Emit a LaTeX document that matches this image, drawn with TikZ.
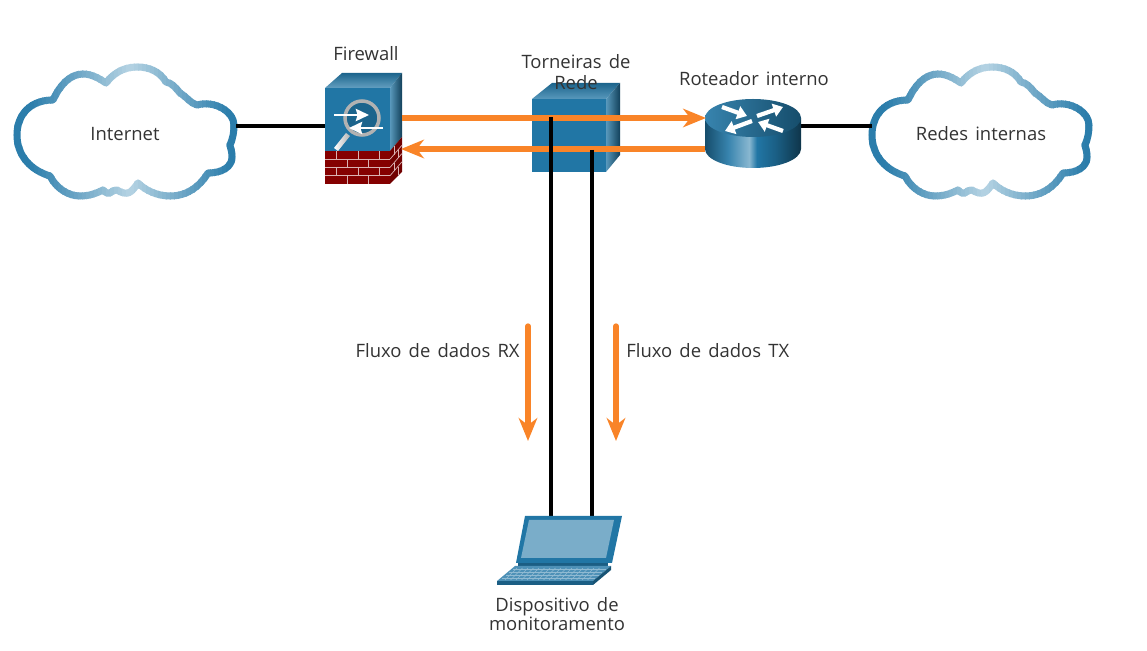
\documentclass[tikz,border=0pt]{standalone}
\usepackage{fontspec}
\setmainfont{Open Sans}[WordSpace=1.5]
\usetikzlibrary{arrows.meta}
\definecolor{cbdark}{HTML}{2B7DAB}
\definecolor{cblight}{HTML}{B5D3E3}
\definecolor{devblue}{HTML}{2176A5}
\definecolor{flow}{HTML}{F98428}
\definecolor{brick}{HTML}{850000}
\definecolor{txtgray}{HTML}{333333}
\pgfdeclarehorizontalshading{routerside}{100bp}{
 color(0bp)=(devblue!65!black); color(25bp)=(devblue!65!black); color(37bp)=(devblue!90!white);
 color(48bp)=(cblight!70!devblue); color(52bp)=(devblue); color(62bp)=(devblue!80!black); color(75bp)=(devblue!45!black); color(100bp)=(devblue!45!black)}
\tikzset{
 lbl/.style={text=txtgray,font=\fontsize{10.5}{10.6}\selectfont,inner sep=0pt,align=center},
 flowline/.style={draw=flow,line width=3pt},
 flowtip/.style={-{Stealth[length=13pt,width=10.5pt,inset=4pt]}},
 blackline/.style={draw=black,line width=2pt},
 mortar/.style={draw=white!70!brick,line width=0.4pt},
 fwarrow/.style={draw=white,line width=1.2pt,-{Stealth[length=7.5pt,width=7pt,inset=1pt]}},
 rtarrow/.style={draw=white,line width=2.4pt,-{Stealth[length=5.5pt,width=7.5pt,inset=0pt]}}
}
\newcommand{\cloudshape}{(53,100) .. controls (30,100) and (17,115) .. (17,135)
 .. controls (17,155) and (30,170) .. (50,176) .. controls (56,188) and (68,196) .. (80,196)
 .. controls (90,196) and (97,193) .. (103,190) .. controls (106,193) and (108,194) .. (110,193)
 .. controls (112,191) and (114,190) .. (117,190) .. controls (120,192) and (125,194) .. (128,193)
 .. controls (132,192) and (135,187) .. (138,183) .. controls (146,191) and (158,196) .. (170,196)
 .. controls (188,196) and (200,186) .. (208,173) .. controls (222,173) and (232,167) .. (232,157)
 .. controls (232,152) and (231,150) .. (230,145) .. controls (233,138) and (234,132) .. (234,125)
 .. controls (234,112) and (215,100) .. (197,105) .. controls (190,103) and (188,98) .. (180,93)
 .. controls (176,88) and (172,83) .. (166,82) .. controls (160,72) and (150,67) .. (137,67)
 .. controls (122,67) and (112,75) .. (106,83) .. controls (100,79) and (92,74) .. (83,74)
 .. controls (70,74) and (60,85) .. (53,100) -- cycle}
\newcommand{\cloudring}{%
 \foreach \sx in {10,14,...,238}{
  \pgfmathsetmacro{\mixp}{min(100,abs(\sx+2-130)/1.0)}
  \begin{scope}
   \clip (\sx,50) rectangle (\sx+5,210);
   \draw[cbdark!\mixp!cblight,line width=4pt,line join=round] \cloudshape;
  \end{scope}
 }}
\begin{document}
\begin{tikzpicture}[x=0.02cm,y=-0.02cm]
 \useasboundingbox (0,0) rectangle (1147,651);
 % ports
 \coordinate (inetport) at (236,126);
 \coordinate (fwleft) at (325,126);
 \coordinate (fwtx) at (402,118);
 \coordinate (fwrx) at (401,149);
 \coordinate (rttx) at (706,118);
 \coordinate (rtrx) at (705,149);
 \coordinate (rtright) at (801,126);
 \coordinate (lanport) at (872,126);
 \coordinate (taprx) at (551,117);
 \coordinate (taptx) at (592,150);
 \coordinate (lapleft) at (551,517);
 \coordinate (lapright) at (592,517);
 \coordinate (rxtop) at (528,326);
 \coordinate (rxend) at (528,441);
 \coordinate (txtop) at (616,326);
 \coordinate (txend) at (616,441);
 % clouds
 \cloudring
 \begin{scope}[shift={(855,0)}] \cloudring \end{scope}
 \draw[blackline] (inetport) -- (fwleft);
 \draw[blackline] (rtright) -- (lanport);
 % firewall
 \fill[devblue] (325,88) rectangle (390,151);
 \shade[bottom color=devblue!70!white,top color=devblue!85!black] (325,88) -- (342,73) -- (402,73) -- (390,88) -- cycle;
 \shade[left color=devblue!75!white,right color=devblue!55!black] (390,88) -- (402,73) -- (402,137) -- (390,151) -- cycle;
 \fill[brick] (325,151) rectangle (390,184);
 \fill[brick!85!black] (390,151) -- (402,137) -- (402,172) -- (390,184) -- cycle;
 \foreach \k in {1,2,3}{
  \draw[mortar] (325,151+8.25*\k) -- (390,151+8.25*\k);
  \draw[mortar] (390,151+8.25*\k) -- (402,137+8.25*\k);
 }
 \foreach \bx in {336,358,379} \draw[mortar] (\bx,151) -- (\bx,159.25) (\bx,167.5) -- (\bx,175.75);
 \foreach \bx in {347,368} \draw[mortar] (\bx,159.25) -- (\bx,167.5) (\bx,175.75) -- (\bx,184);
 \foreach \k in {0,2} \draw[mortar] (394,146.5+8.25*\k) -- ++(0,8.25);
 \foreach \k in {1,3} \draw[mortar] (398,142+8.25*\k) -- ++(0,8.25);
 \shade[left color=white,right color=gray!60!white,draw=none] (334,148) -- (346,133) -- (350,136) -- (338,151) -- cycle;
 \fill[devblue!85!black] (362,118) circle (17);
 \draw[gray!60!white,line width=2pt] (362,118) circle (17);
 \draw[fwarrow] (334,115) -- (369,115);
 \draw[fwarrow] (383,128) -- (349,128);
 \node[lbl] (fwlabel) at (366,54) {Firewall};
 % tap
 \fill[devblue] (532,99) rectangle (606,172);
 \shade[bottom color=devblue!75!white,top color=devblue!85!black] (532,99) -- (552,83) -- (620,83) -- (606,99) -- cycle;
 \shade[left color=devblue!75!white,right color=devblue!55!black] (606,99) -- (620,83) -- (620,155) -- (606,172) -- cycle;
 % router
 \shade[shading=routerside] (705,118) -- (705,149) arc[start angle=180,end angle=360,x radius=48,y radius=-19] -- (801,118) -- cycle;
 \shade[left color=devblue!90!white,right color=devblue!65!black] (753,118) ellipse [x radius=48,y radius=19];
 \draw[rtarrow] (722,107) -- (747,116);
 \draw[rtarrow] (752,121) -- (725,131);
 \draw[rtarrow] (757,116) -- (783,107);
 \draw[rtarrow] (783,131) -- (758,122);
 % flows
 \draw[flowline,flowtip] (fwtx) -- (rttx);
 \draw[flowline,flowtip] (rtrx) -- (fwrx);
 \draw[blackline] (taprx) -- (lapleft);
 \draw[blackline] (taptx) -- (lapright);
 \draw[flowline,flowtip,line cap=round] (rxtop) -- (rxend);
 \draw[flowline,flowtip,line cap=round] (txtop) -- (txend);
 % laptop
 \fill[devblue] (525,516) -- (622,516) -- (612,563) -- (516,563) -- cycle;
 \fill[devblue!60!white] (529,520) -- (614,520) -- (606,558) -- (521,558) -- cycle;
 \fill[devblue!80!black] (518,563) -- (608,563) -- (608,566) -- (518,566) -- cycle;
 \fill[devblue!80!white] (515,566) -- (611,566) -- (593,581) -- (497,581) -- cycle;
 \fill[devblue!80!black] (497,581) -- (593,581) -- (593,585) -- (497,585) -- cycle;
 \fill[devblue!70!black] (593,581) -- (611,566) -- (611,570) -- (593,585) -- cycle;
 \foreach \k in {0,1,2,3} \draw[devblue!50!white,line width=0.3pt] (513-3.6*\k,569+3*\k) -- (606-3.6*\k,569+3*\k);
 \foreach \k in {0,...,15} \draw[devblue!50!white,line width=0.3pt] (517+5.5*\k,568) -- (505+5.5*\k,580);
 % labels
 \node[lbl] (internet) at (125,134) {Internet};
 \node[lbl] (lan) at (981,134) {Redes internas};
 \node[lbl] (taplabel) at (576,72) {Torneiras de\\[1.5pt]Rede};
 \node[lbl] (rtlabel) at (754,79) {Roteador interno};
 \node[lbl,anchor=east] (rxlabel) at (520,351) {Fluxo de dados RX};
 \node[lbl,anchor=west] (txlabel) at (626,351) {Fluxo de dados TX};
 \node[lbl] (laplabel) at (557,614) {Dispositivo de\\monitoramento};
\end{tikzpicture}
\end{document}
